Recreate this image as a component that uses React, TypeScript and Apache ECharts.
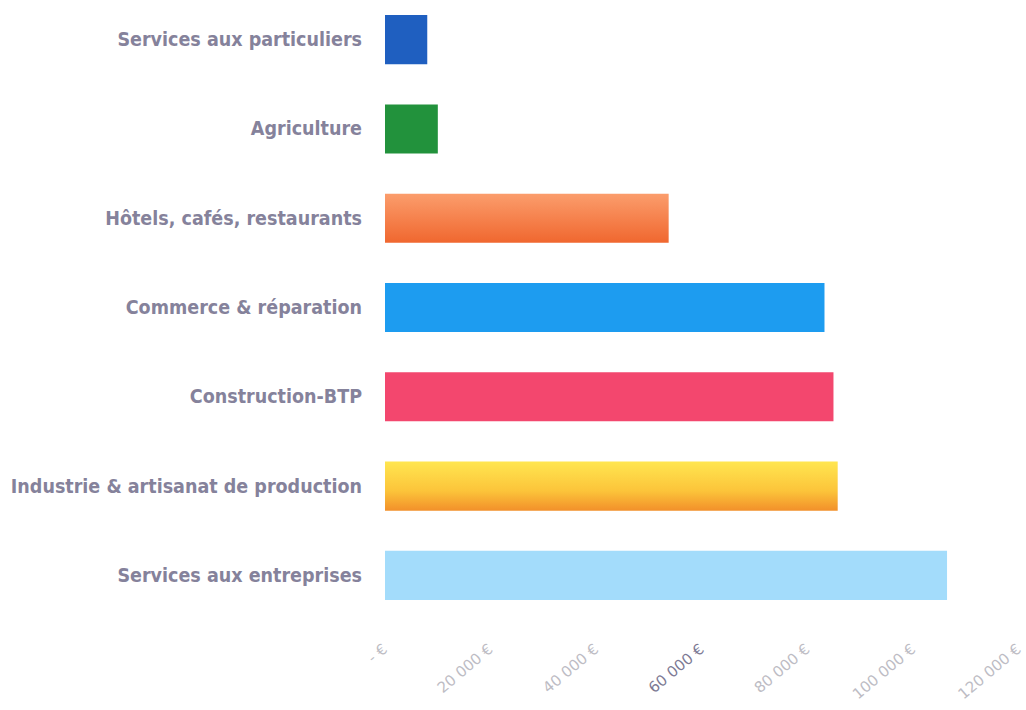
import React, { useEffect, useRef } from "react";
import * as echarts from "echarts";

const categories = [
  "Services aux particuliers",
  "Agriculture",
  "Hôtels, cafés, restaurants",
  "Commerce & réparation",
  "Construction-BTP",
  "Industrie & artisanat de production",
  "Services aux entreprises",
];
const values = [8000, 10000, 53700, 83200, 84900, 85700, 106400];
const tickLabels = ["- €", "20 000 €", "40 000 €", "60 000 €", "80 000 €", "100 000 €", "120 000 €"];

const barColors: any[] = [
  "#1f5fc0",
  "#22923c",
  { type: "linear", x: 0, y: 0, x2: 0, y2: 1, colorStops: [{ offset: 0, color: "#fb9d6c" }, { offset: 1, color: "#f0672f" }] },
  "#1d9cf0",
  "#f3476e",
  { type: "linear", x: 0, y: 0, x2: 0, y2: 1, colorStops: [{ offset: 0, color: "#ffe650" }, { offset: 0.6, color: "#fcc43a" }, { offset: 1, color: "#f2902a" }] },
  "#a3dcfb",
];

export default function App() {
  const ref = useRef<HTMLDivElement>(null);
  useEffect(() => {
    const chart = echarts.init(ref.current!, null, { renderer: "svg" });
    chart.setOption({
      animation: false,
      backgroundColor: "#ffffff",
      grid: { left: 385, right: 2, top: 0, bottom: 90, containLabel: false },
      xAxis: {
        type: "value",
        min: 0,
        max: 120000,
        interval: 20000,
        axisLine: { show: false },
        axisTick: { show: false },
        splitLine: { show: false },
        axisLabel: {
          rotate: 40,
          margin: 27,
          fontFamily: "DejaVu Sans, sans-serif",
          fontSize: 15,
          color: "#bdbcc4",
          formatter: (v: number) => {
            const i = Math.round(v / 20000);
            return i === 3 ? "{d|" + tickLabels[i] + "}" : tickLabels[i];
          },
          rich: { d: { color: "#7d7a94", fontSize: 15, fontFamily: "DejaVu Sans, sans-serif" } },
        },
      },
      yAxis: {
        type: "category",
        data: categories,
        inverse: true,
        axisLine: { show: false },
        axisTick: { show: false },
        axisLabel: {
          margin: 23,
          fontFamily: "Liberation Sans Narrow, DejaVu Sans Condensed, sans-serif",
          fontWeight: "bold",
          fontSize: 19.5,
          color: "#85829b",
        },
      },
      series: [
        {
          type: "bar",
          barWidth: "55%",
          data: values.map((v, i) => ({ value: v, itemStyle: { color: barColors[i] } })),
        },
      ],
    });
    return () => chart.dispose();
  }, []);
  return <div ref={ref} style={{ position: "fixed", left: 0, top: -5, width: 1026, height: 715 }} />;
}
